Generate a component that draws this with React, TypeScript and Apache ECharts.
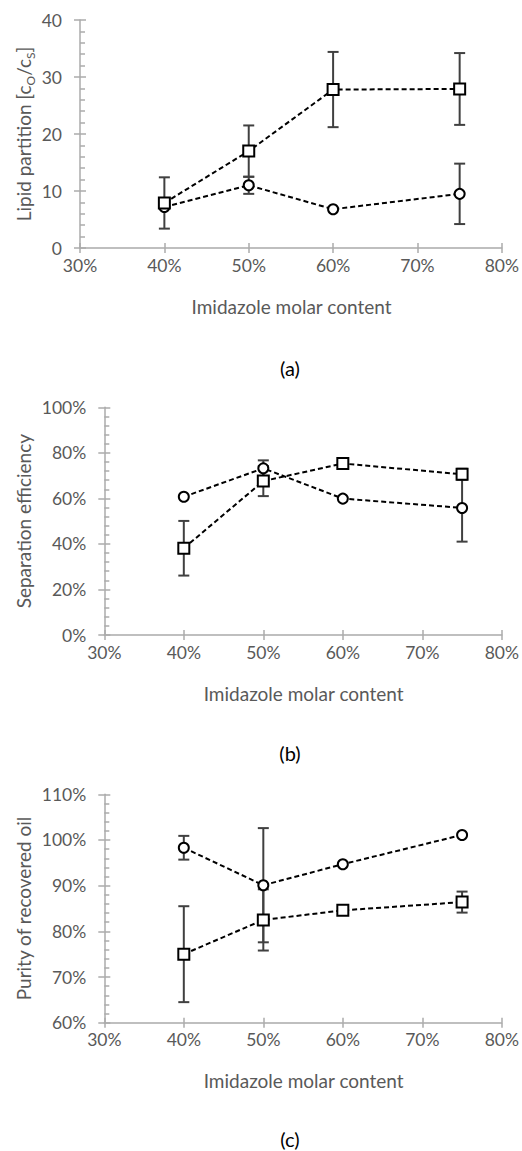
import React, { useEffect, useRef } from 'react';
import * as echarts from 'echarts';

// ---- data ----
const xContent = [40, 50, 60, 75]; // imidazole molar content (%)
const xTicks = [30, 40, 50, 60, 70, 80];

// (a) lipid partition
const partitionTicks = [0, 10, 20, 30, 40];
const partitionSquare = [7.9, 17.0, 27.8, 27.9];
const partitionSquareErr = [4.5, 4.5, 6.6, 6.3];
const partitionCircle = [7.2, 11.0, 6.8, 9.5];
const partitionCircleErr = [0, 1.5, 0, 5.3];

// (b) separation efficiency (%)
const efficiencyTicks = [0, 20, 40, 60, 80, 100];
const efficiencySquare = [38.1, 67.6, 75.3, 70.6];
const efficiencySquareErr = [12.0, 6.6, 0, 2.4];
const efficiencyCircle = [60.7, 73.2, 59.9, 55.8];
const efficiencyCircleErr = [0, 3.5, 0, 14.8];

// (c) purity of recovered oil (%)
const purityTicks = [60, 70, 80, 90, 100, 110];
const puritySquare = [75.0, 82.5, 84.6, 86.4];
const puritySquareErr = [10.5, 6.7, 0, 2.3];
const purityCircle = [98.3, 90.1, 94.7, 101.1];
const purityCircleErr = [2.6, 12.5, 0, 0];

const FONT = 'Lato, "Open Sans", sans-serif';
const AXIS_COLOR = '#ababab';
const TEXT_COLOR = '#595959';

type Panel = {
  grid: { left: number; top: number; width: number; height: number };
  yTicks: number[];
  pct: boolean;
  yName: string;
  square: number[];
  squareErr: number[];
  circle: number[];
  circleErr: number[];
  label: string;
  labelY: number;
  nameY: number;
};

const panels: Panel[] = [
  {
    grid: { left: 80, top: 20, width: 423, height: 228 },
    yTicks: partitionTicks, pct: false,
    yName: 'Lipid partition [c{sub|O}/c{sub|S}]',
    square: partitionSquare, squareErr: partitionSquareErr,
    circle: partitionCircle, circleErr: partitionCircleErr,
    label: '(a)', labelY: 368, nameY: 306.5,
  },
  {
    grid: { left: 104.3, top: 407.3, width: 398.7, height: 227.7 },
    yTicks: efficiencyTicks, pct: true,
    yName: 'Separation efficiency',
    square: efficiencySquare, squareErr: efficiencySquareErr,
    circle: efficiencyCircle, circleErr: efficiencyCircleErr,
    label: '(b)', labelY: 753, nameY: 693,
  },
  {
    grid: { left: 104.3, top: 794.3, width: 398.7, height: 228.4 },
    yTicks: purityTicks, pct: true,
    yName: 'Purity of recovered oil',
    square: puritySquare, squareErr: puritySquareErr,
    circle: purityCircle, circleErr: purityCircleErr,
    label: '(c)', labelY: 1139, nameY: 1080,
  },
];

function errorRender(params: any, api: any) {
  const x = api.value(0);
  const y = api.value(1);
  const e = api.value(2);
  if (!e) return { type: 'group', children: [] };
  const top = api.coord([x, y + e]);
  const bot = api.coord([x, y - e]);
  const h = 5.5;
  const style = { stroke: '#404040', lineWidth: 2 };
  return {
    type: 'group',
    children: [
      { type: 'line', shape: { x1: top[0], y1: top[1], x2: bot[0], y2: bot[1] }, style },
      { type: 'line', shape: { x1: top[0] - h, y1: top[1], x2: top[0] + h, y2: top[1] }, style },
      { type: 'line', shape: { x1: bot[0] - h, y1: bot[1], x2: bot[0] + h, y2: bot[1] }, style },
    ],
  };
}

function buildOption() {
  const grid: any[] = [];
  const xAxis: any[] = [];
  const yAxis: any[] = [];
  const series: any[] = [];
  const graphic: any[] = [];

  panels.forEach((p, k) => {
    grid.push({ ...p.grid, containLabel: false });
    const xMin = xTicks[0];
    const xMax = xTicks[xTicks.length - 1];
    const xInt = xTicks[1] - xTicks[0];
    const yMin = p.yTicks[0];
    const yMax = p.yTicks[p.yTicks.length - 1];
    const yInt = p.yTicks[1] - p.yTicks[0];
    const lineStyle = { color: AXIS_COLOR, width: 1.5 };

    // main x axis: line, labels, outer ticks
    xAxis.push({
      type: 'value', gridIndex: k, min: xMin, max: xMax, interval: xInt,
      axisLine: { show: true, lineStyle },
      axisTick: { show: true, inside: false, length: 5, lineStyle },
      axisLabel: {
        show: true, formatter: '{value}%', color: TEXT_COLOR, fontSize: 17.5,
        fontFamily: FONT, margin: 8,
      },
      splitLine: { show: false },
    });
    // companion x axis: inner ticks only
    xAxis.push({
      type: 'value', gridIndex: k, min: xMin, max: xMax, interval: xInt, position: 'bottom',
      axisLine: { show: false },
      axisTick: { show: true, inside: true, length: 5, lineStyle },
      axisLabel: { show: false },
      splitLine: { show: false },
    });
    // main y axis
    yAxis.push({
      type: 'value', gridIndex: k, min: yMin, max: yMax, interval: yInt,
      axisLine: { show: true, lineStyle },
      axisTick: { show: true, inside: false, length: 6, lineStyle },
      axisLabel: {
        show: true, formatter: p.pct ? '{value}%' : '{value}', color: TEXT_COLOR,
        fontSize: 17.5, fontFamily: FONT, margin: 18,
      },
      splitLine: { show: false },
    });
    // companion y axis: inner major + minor ticks
    yAxis.push({
      type: 'value', gridIndex: k, min: yMin, max: yMax, interval: yInt, position: 'left',
      axisLine: { show: false },
      axisTick: { show: true, inside: true, length: 6, lineStyle },
      minorTick: { show: true, splitNumber: 5, length: 5, lineStyle: { color: AXIS_COLOR, width: 1.5 } },
      axisLabel: { show: false },
      splitLine: { show: false },
    });

    const xi = 2 * k;
    const yi = 2 * k;
    const markerStyle = { color: '#ffffff', borderColor: '#000000', borderWidth: 2 };
    const dashed = { color: '#000000', width: 2, type: [5, 3] };

    series.push({
      type: 'custom', name: 'square error ' + p.label, xAxisIndex: xi, yAxisIndex: yi, z: 1,
      renderItem: errorRender, encode: { x: 0, y: 1 },
      data: xContent.map((x, i) => [x, p.square[i], p.squareErr[i]]),
    });
    series.push({
      type: 'custom', name: 'circle error ' + p.label, xAxisIndex: xi, yAxisIndex: yi, z: 1,
      renderItem: errorRender, encode: { x: 0, y: 1 },
      data: xContent.map((x, i) => [x, p.circle[i], p.circleErr[i]]),
    });
    series.push({
      type: 'line', name: 'circle ' + p.label, xAxisIndex: xi, yAxisIndex: yi, z: 3,
      data: xContent.map((x, i) => [x, p.circle[i]]),
      symbol: 'circle', symbolSize: 10, showAllSymbol: true,
      lineStyle: dashed, itemStyle: markerStyle,
    });
    series.push({
      type: 'line', name: 'square ' + p.label, xAxisIndex: xi, yAxisIndex: yi, z: 4,
      data: xContent.map((x, i) => [x, p.square[i]]),
      symbol: 'rect', symbolSize: 11, showAllSymbol: true,
      lineStyle: dashed, itemStyle: markerStyle,
    });

    const cx = p.grid.left + p.grid.width / 2;
    const cy = p.grid.top + p.grid.height / 2;
    graphic.push({
      type: 'text', x: 23, y: cy, rotation: Math.PI / 2,
      style: {
        text: p.yName, fill: TEXT_COLOR, fontSize: 19, fontFamily: FONT,
        align: 'center', verticalAlign: 'middle',
        rich: { sub: { fontSize: 12, fontFamily: FONT, fill: TEXT_COLOR, lineHeight: 27, verticalAlign: 'bottom' } },
      },
    });
    graphic.push({
      type: 'text', x: cx, y: p.nameY,
      style: {
        text: 'Imidazole molar content', fill: TEXT_COLOR, fontSize: 19, fontFamily: FONT,
        align: 'center', verticalAlign: 'middle',
      },
    });
    graphic.push({
      type: 'text', x: 290, y: p.labelY,
      style: {
        text: p.label, fill: '#000000', fontSize: 20, fontFamily: FONT,
        align: 'center', verticalAlign: 'middle',
      },
    });
  });

  return {
    animation: false,
    backgroundColor: '#ffffff',
    grid, xAxis, yAxis, series, graphic,
  };
}

export default function App() {
  const ref = useRef<HTMLDivElement>(null);
  useEffect(() => {
    document.body.style.margin = '0';
    const chart = echarts.init(ref.current as HTMLDivElement, null, { renderer: 'svg' });
    chart.setOption(buildOption() as any);
    return () => chart.dispose();
  }, []);
  return <div ref={ref} style={{ width: 522, height: 1151 }} />;
}
